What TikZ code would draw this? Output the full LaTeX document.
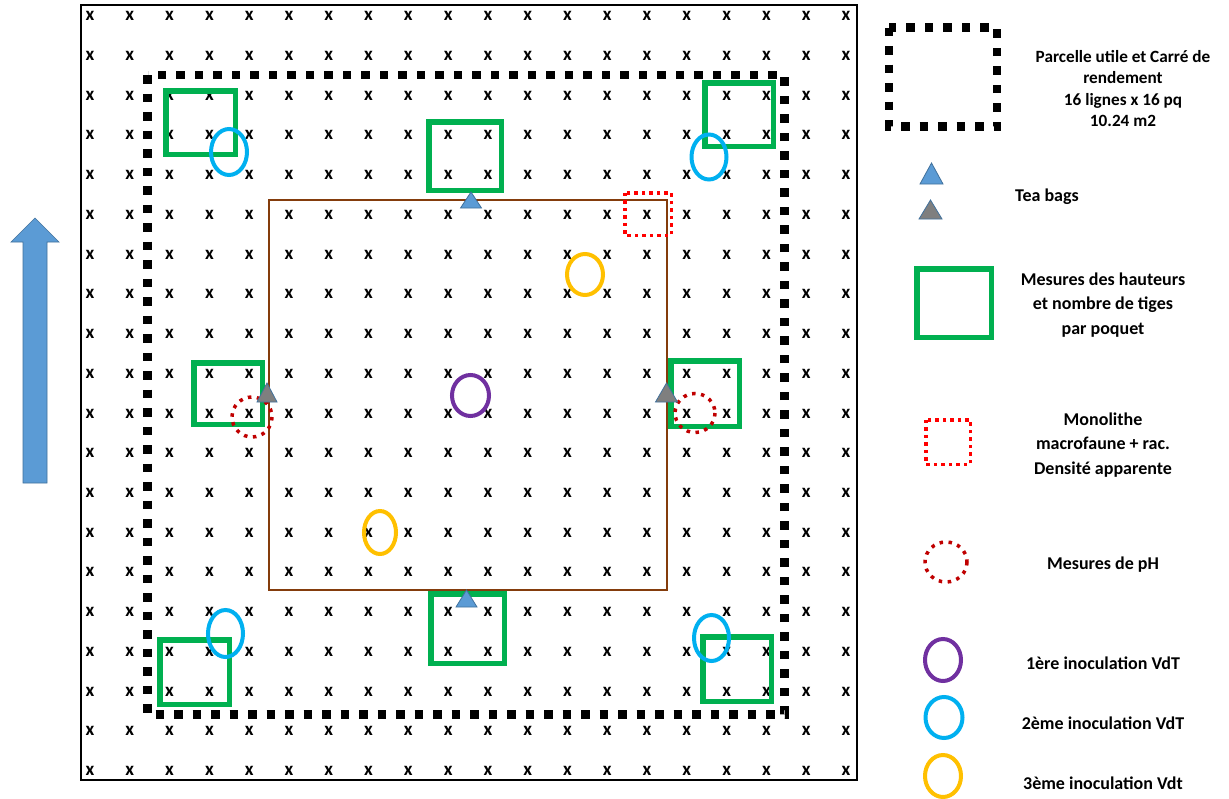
\documentclass[tikz,border=0pt]{standalone}
\usepackage{fontspec}
\setmainfont{Carlito}
\definecolor{grn}{HTML}{00B050}
\definecolor{cyn}{HTML}{00B0F0}
\definecolor{prp}{HTML}{7030A0}
\definecolor{org}{HTML}{FFC000}
\definecolor{brn}{HTML}{843C0C}
\definecolor{rd}{HTML}{FF0000}
\definecolor{drd}{HTML}{C00000}
\definecolor{abl}{HTML}{5B9BD5}
\definecolor{abd}{HTML}{41719C}
\definecolor{gry}{HTML}{7F7F7F}
\tikzset{
  gridx/.style={inner sep=0pt, font=\fontsize{19}{20}\selectfont\bfseries},
  greenbox/.style={draw=grn, line width=5.5pt},
  blackdots/.style={draw=black, line width=8.5pt, dash pattern=on 8.5pt off 10pt},
  monolith/.style={draw=rd, line width=3.5pt, dash pattern=on 3.5pt off 4pt},
  phring/.style={draw=drd, line width=3.5pt, dash pattern=on 3.5pt off 5.5pt},
  inoc/.style={line width=4pt},
  teablue/.style={fill=abl, draw=abd, line width=0.8pt},
  teagrey/.style={fill=gry, draw=abd, line width=0.8pt},
  legtext/.style={align=center, inner sep=0pt, font=\fontsize{18}{24.5}\selectfont\bfseries},
}
\begin{document}
\begin{tikzpicture}[x=1pt,y=-1pt]
\useasboundingbox (0,0) rectangle (1229,798);
\fill[white] (0,0) rectangle (1229,798);
% outer plot frame
\draw[line width=2.5pt] (81,5) rectangle (857,780);
% grid of pockets
\foreach \i in {0,...,19}{
  \foreach \j in {0,...,19}{
    \node[gridx] (x-\i-\j) at ({90+39.79*\i},{16+39.74*\j}) {x};
  }
}
% inner brown square
\draw[brn, line width=2pt] (269,199.5) rectangle (666.5,589.5);
% useful plot (dotted black)
\draw[blackdots] (147.5,75) rectangle (784.5,714.5);
% green measurement squares
\draw[greenbox] (165.75,90.75) rectangle (235.25,154.25);
\draw[greenbox] (428.75,121.75) rectangle (501.25,190.25);
\draw[greenbox] (704.75,82.75) rectangle (773.25,146.25);
\draw[greenbox] (193.75,362.75) rectangle (262.25,424.25);
\draw[greenbox] (670.75,360.75) rectangle (739.25,426.25);
\draw[greenbox] (430.75,593.75) rectangle (504.25,663.25);
\draw[greenbox] (159.75,639.75) rectangle (229.25,704.25);
\draw[greenbox] (702.75,636.75) rectangle (771.25,701.25);
% monolith
\draw[monolith] (624.75,192.75) rectangle (671.25,235.25);
% pH rings
\draw[phring] (252,417) ellipse [x radius=20, y radius=20];
\draw[phring] (695,413) ellipse [x radius=20, y radius=19.5];
% inoculations
\draw[inoc, cyn] (229,152) ellipse [x radius=18, y radius=23];
\draw[inoc, cyn] (709,157) ellipse [x radius=17.5, y radius=22.5];
\draw[inoc, cyn] (225.5,633.5) ellipse [x radius=17.5, y radius=23.5];
\draw[inoc, cyn] (711.5,638) ellipse [x radius=17.5, y radius=23];
\draw[inoc, prp] (470.5,395.5) ellipse [x radius=18.5, y radius=20.5];
\draw[inoc, org] (585,274.5) ellipse [x radius=18, y radius=20.5];
\draw[inoc, org] (380,532.5) ellipse [x radius=16, y radius=21.5];
% tea bags
\draw[teablue] (471,192) -- (481.5,208) -- (460.5,208) -- cycle;
\draw[teagrey] (267,383) -- (277,402) -- (257,402) -- cycle;
\draw[teagrey] (666.5,383) -- (677.5,402) -- (655.5,402) -- cycle;
\draw[teablue] (466.5,590) -- (477,607) -- (456,607) -- cycle;
% direction arrow
\draw[fill=abl, draw=abd, line width=0.7pt] (35,218) -- (59,242) -- (47,242) -- (47,483) -- (23,483) -- (23,242) -- (11,242) -- cycle;
% legend
\draw[blackdots] (889,27.5) rectangle (997,126.5);
\node[legtext, font=\fontsize{17.2}{21.5}\selectfont\bfseries] (l1) at (1123,88.5) {Parcelle utile et Carré de\\rendement\\16 lignes x 16 pq\\10.24 m2};
\draw[teablue] (931.5,163) -- (943,184) -- (920,184) -- cycle;
\draw[teagrey] (930.5,200) -- (942,219) -- (919,219) -- cycle;
\node[legtext] (l2) at (1047,197) {Tea bags};
\draw[greenbox] (916.75,268.75) rectangle (991.25,337.25);
\node[legtext] (l3) at (1103,305) {Mesures des hauteurs\\et nombre de tiges\\par poquet};
\draw[monolith] (925.75,419.75) rectangle (970.25,464.25);
\node[legtext] (l4) at (1103,445) {Monolithe\\macrofaune + rac.\\Densité apparente};
\draw[phring] (946,562) ellipse [x radius=21, y radius=20];
\node[legtext] (l5) at (1103,565) {Mesures de pH};
\draw[inoc, prp] (943,660) ellipse [x radius=18, y radius=21];
\node[legtext] (l6) at (1103,663) {1ère inoculation VdT};
\draw[inoc, cyn] (944,717.5) ellipse [x radius=18.5, y radius=20.5];
\node[legtext] (l7) at (1103,723) {2ème inoculation VdT};
\draw[inoc, org] (943,776) ellipse [x radius=18, y radius=21];
\node[legtext] (l8) at (1103,783) {3ème inoculation Vdt};
\end{tikzpicture}
\end{document}
